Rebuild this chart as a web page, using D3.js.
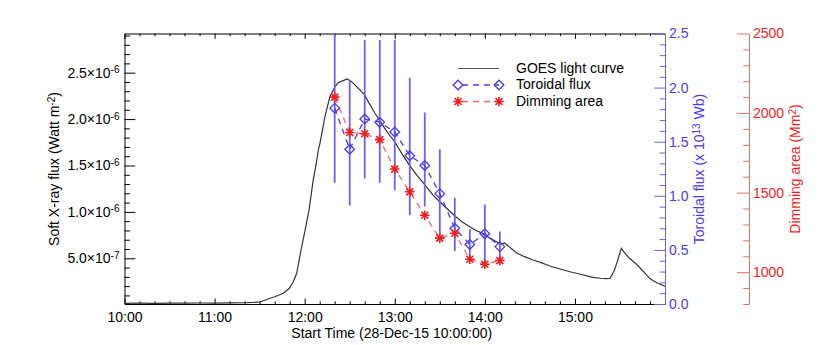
<!DOCTYPE html>
<html>
<head>
<meta charset="utf-8">
<script src="https://cdn.jsdelivr.net/npm/d3@7"></script>
<style>
  body { margin: 0; background: #fff; }
  text { font-family: "Liberation Sans", Arial, Helvetica, sans-serif; }
</style>
</head>
<body>
<svg id="chart" width="830" height="345"></svg>
<script>
// GOES soft X-ray light curve: minutes after 10:00 UT, flux in W m^-2
const goesMinutes = [0, 10, 20, 30, 40, 50, 60, 70, 80, 86, 90.3, 92.5, 96.9, 100.2, 105.8, 109.8,
  112.5, 114.7, 117.7, 120, 122.9, 125.7, 127.5, 129.1, 130.2, 133.5, 136.8, 140.2, 142.4, 145.7,
  148.3, 151.3, 156.8, 160, 162.3, 166.8, 170.1, 175, 180.1, 185, 190.1, 195, 200.1, 205.5, 210.1,
  214.5, 220.1, 225, 230, 234, 238.8, 243, 247.7, 251, 253, 255, 261, 266, 272.1, 278, 283.2, 289,
  294.3, 298, 303.1, 308, 312, 317, 321, 323.5, 326.4, 328.5, 330.9, 333, 336.4, 340, 343, 346,
  349.7, 352, 355.2, 360];
const goesFlux = [0.015e-6, 0.016e-6, 0.014e-6, 0.017e-6, 0.016e-6, 0.018e-6, 0.017e-6, 0.019e-6,
  0.021e-6, 0.024e-6, 0.030e-6, 0.043e-6, 0.070e-6, 0.085e-6, 0.123e-6, 0.177e-6, 0.25e-6, 0.338e-6,
  0.60e-6, 0.78e-6, 1.02e-6, 1.344e-6, 1.50e-6, 1.667e-6, 1.739e-6, 2.026e-6, 2.241e-6, 2.349e-6,
  2.392e-6, 2.414e-6, 2.432e-6, 2.403e-6, 2.314e-6, 2.259e-6, 2.188e-6, 2.063e-6, 1.98e-6, 1.86e-6,
  1.753e-6, 1.62e-6, 1.495e-6, 1.39e-6, 1.29e-6, 1.18e-6, 1.107e-6, 1.039e-6, 0.956e-6, 0.89e-6,
  0.841e-6, 0.80e-6, 0.769e-6, 0.72e-6, 0.679e-6, 0.65e-6, 0.665e-6, 0.64e-6, 0.56e-6, 0.52e-6,
  0.482e-6, 0.45e-6, 0.417e-6, 0.39e-6, 0.366e-6, 0.35e-6, 0.331e-6, 0.31e-6, 0.295e-6, 0.285e-6,
  0.28e-6, 0.285e-6, 0.374e-6, 0.48e-6, 0.608e-6, 0.56e-6, 0.50e-6, 0.45e-6, 0.403e-6, 0.35e-6,
  0.284e-6, 0.26e-6, 0.231e-6, 0.20e-6];

// flux rope measurements
const obsTimes = ['12:20', '12:30', '12:40', '12:50', '13:00', '13:10', '13:20', '13:30', '13:40', '13:50', '14:00', '14:10'];
const toroidalFlux = [1.81, 1.43, 1.71, 1.68, 1.59, 1.37, 1.28, 1.02, 0.70, 0.55, 0.65, 0.53];
const toroidalLo = [1.12, 0.91, 1.16, 1.12, 1.05, 0.82, 0.90, 0.61, 0.49, 0.41, 0.36, 0.37];
const toroidalHi = [2.50, 2.07, 2.44, 2.44, 2.44, 2.09, 1.77, 1.43, 0.98, 0.69, 0.92, 0.67];
const dimmingArea = [2100, 1878, 1870, 1833, 1648, 1505, 1358, 1214, 1245, 1081, 1050, 1073];

// axis ticks
const hourTicks = ['10:00', '11:00', '12:00', '13:00', '14:00', '15:00'];
const fluxTicks = [5e-7, 1.0e-6, 1.5e-6, 2.0e-6, 2.5e-6];
const toroidalTicks = [0, 0.5, 1.0, 1.5, 2.0, 2.5];
const dimmingTicks = [1000, 1500, 2000, 2500];

const BLUE = '#4b3bef', BLUE_LINE = '#6d60f2';
const RED = '#f01e1e', RED_LINE = '#f06a6a';
const FS = 14, FS_SUP = 10;

const toMin = s => { const [h, m] = s.split(':').map(Number); return (h - 10) * 60 + m; };

const svg = d3.select('#chart');
const x0 = 124.5, x1 = 665, y0 = 33.5, y1 = 304;

const x = d3.scaleLinear().domain([0, 360]).range([x0, x1]);
const yFlux = d3.scaleLinear().domain([0.0075e-6, 2.922e-6]).range([y1, y0]);
const yTor = d3.scaleLinear().domain([0, 2.5]).range([y1, y0]);
const yDim = d3.scaleLinear().domain([800, 2500]).range([y1, y0]);

const minorX = d3.range(0, 361, 10).filter(m => m % 60);
const minorFlux = d3.range(1, 30).filter(i => i % 5).map(i => i * 1e-7);
const minorTor = d3.range(0, 26).filter(i => i % 5).map(i => i / 10);
const minorDim = d3.range(800, 2501, 100).filter(v => v % 500);

function styleAxis(g, color, size) {
  g.selectAll('.domain').attr('stroke', color);
  g.selectAll('.tick line').attr('stroke', color);
  g.selectAll('text').attr('fill', color).attr('font-size', size);
}

// bottom / top time axes
const xMajor = hourTicks.map(toMin);
svg.append('g').attr('transform', `translate(0,${y1})`)
  .call(d3.axisBottom(x).tickValues(xMajor).tickSizeInner(-5.4).tickSizeOuter(0).tickPadding(8.5)
    .tickFormat((d, i) => hourTicks[i]))
  .call(g => styleAxis(g, '#000', FS));
svg.append('g').attr('transform', `translate(0,${y1})`)
  .call(d3.axisBottom(x).tickValues(minorX).tickSize(-2.7).tickFormat(''))
  .call(g => g.select('.domain').remove());
svg.append('g').attr('transform', `translate(0,${y0})`)
  .call(d3.axisTop(x).tickValues(xMajor).tickSizeInner(-5.4).tickSizeOuter(0).tickFormat(''))
  .call(g => styleAxis(g, '#000', 0));
svg.append('g').attr('transform', `translate(0,${y0})`)
  .call(d3.axisTop(x).tickValues(minorX).tickSize(-2.7).tickFormat(''))
  .call(g => g.select('.domain').remove());

// left flux axis with a×10^b labels
const gl = svg.append('g').attr('transform', `translate(${x0},0)`)
  .call(d3.axisLeft(yFlux).tickValues(fluxTicks).tickSizeInner(-10.8).tickSizeOuter(0).tickPadding(5))
  .call(g => styleAxis(g, '#000', FS));
gl.selectAll('.tick text').each(function (d) {
  const e = Math.floor(Math.log10(d) + 1e-9);
  const t = d3.select(this).text(null);
  t.append('tspan').text((d / Math.pow(10, e)).toFixed(1) + '\u00d710');
  t.append('tspan').attr('dy', '-0.45em').attr('font-size', FS_SUP).text(e);
});
svg.append('g').attr('transform', `translate(${x0},0)`)
  .call(d3.axisLeft(yFlux).tickValues(minorFlux).tickSize(-5.4).tickFormat(''))
  .call(g => g.select('.domain').remove());

// toroidal flux axis (blue)
svg.append('g').attr('transform', `translate(${x1},0)`)
  .call(d3.axisRight(yTor).tickValues(toroidalTicks).tickSizeInner(-10.8).tickSizeOuter(0).tickPadding(4)
    .tickFormat(d3.format('.1f')))
  .call(g => styleAxis(g, BLUE_LINE, FS))
  .call(g => g.selectAll('text').attr('fill', BLUE));
svg.append('g').attr('transform', `translate(${x1},0)`)
  .call(d3.axisRight(yTor).tickValues(minorTor).tickSize(-5.4).tickFormat(''))
  .call(g => g.select('.domain').remove())
  .call(g => g.selectAll('line').attr('stroke', BLUE_LINE));

// dimming area axis (red)
const dimX = 749;
svg.append('g').attr('transform', `translate(${dimX},0)`)
  .call(d3.axisRight(yDim).tickValues(dimmingTicks).tickSizeInner(-12).tickSizeOuter(0).tickPadding(4)
    .tickFormat(d3.format('d')))
  .call(g => styleAxis(g, RED_LINE, FS))
  .call(g => g.selectAll('text').attr('fill', RED));
svg.append('g').attr('transform', `translate(${dimX},0)`)
  .call(d3.axisRight(yDim).tickValues(minorDim).tickSize(-5.7).tickFormat(''))
  .call(g => g.select('.domain').remove())
  .call(g => g.selectAll('line').attr('stroke', RED_LINE));

// axis titles
svg.append('text').attr('x', x0 + (x1 - x0) / 2 - 3).attr('y', 338)
  .attr('text-anchor', 'middle').attr('font-size', FS)
  .text('Start Time (28-Dec-15 10:00:00)');

function vTitle(xp, color, pre, sup, post) {
  const t = svg.append('text').attr('transform', `translate(${xp},169) rotate(-90)`)
    .attr('text-anchor', 'middle').attr('font-size', FS).attr('fill', color);
  t.append('tspan').text(pre);
  t.append('tspan').attr('dy', '-0.45em').attr('font-size', FS_SUP).text(sup);
  t.append('tspan').attr('dy', '0.32em').text(post);
}
vTitle(59, '#000', 'Soft X-ray flux (Watt m', '-2', ')');
vTitle(704, BLUE, 'Toroidal flux (x 10', '13', ' Wb)');
vTitle(800, RED, 'Dimming area (Mm', '2', ')');

// clip for data
svg.append('clipPath').attr('id', 'plot').append('rect')
  .attr('x', x0).attr('y', y0).attr('width', x1 - x0).attr('height', y1 - y0);
const plot = svg.append('g').attr('clip-path', 'url(#plot)');

// GOES curve
plot.append('path')
  .datum(goesMinutes.map((m, i) => [m, goesFlux[i]]))
  .attr('fill', 'none').attr('stroke', '#333').attr('stroke-width', 1.2)
  .attr('d', d3.line().x(d => x(d[0])).y(d => yFlux(d[1])));

const obsMin = obsTimes.map(toMin);

// toroidal flux error bars
plot.selectAll('.err').data(obsMin).join('line')
  .attr('x1', d => x(d)).attr('x2', d => x(d))
  .attr('y1', (d, i) => yTor(toroidalHi[i])).attr('y2', (d, i) => yTor(toroidalLo[i]))
  .attr('stroke', BLUE_LINE).attr('stroke-width', 1.8);

// dashed connectors
plot.append('path').datum(obsMin)
  .attr('fill', 'none').attr('stroke', BLUE).attr('stroke-width', 1.3).attr('stroke-dasharray', '6,5')
  .attr('d', d3.line().x(d => x(d)).y((d, i) => yTor(toroidalFlux[i])));
plot.append('path').datum(obsMin)
  .attr('fill', 'none').attr('stroke', RED_LINE).attr('stroke-width', 1.3).attr('stroke-dasharray', '6,5')
  .attr('d', d3.line().x(d => x(d)).y((d, i) => yDim(dimmingArea[i])));

function diamond(g, cx, cy) {
  g.append('path').attr('d', `M${cx - 4.8},${cy}L${cx},${cy - 4.8}L${cx + 4.8},${cy}L${cx},${cy + 4.8}Z`)
    .attr('fill', 'none').attr('stroke', BLUE).attr('stroke-width', 1.3);
}
function star(g, cx, cy) {
  const r = 4.8, q = 3.5;
  g.append('path')
    .attr('d', `M${cx - r},${cy}L${cx + r},${cy}M${cx},${cy - r}L${cx},${cy + r}` +
      `M${cx - q},${cy - q}L${cx + q},${cy + q}M${cx - q},${cy + q}L${cx + q},${cy - q}`)
    .attr('stroke', RED).attr('stroke-width', 1.6);
  g.append('circle').attr('cx', cx).attr('cy', cy).attr('r', 1.8).attr('fill', RED);
}
obsMin.forEach((m, i) => diamond(plot, x(m), yTor(toroidalFlux[i])));
obsMin.forEach((m, i) => star(plot, x(m), yDim(dimmingArea[i])));

// legend
const lg = svg.append('g');
const lx0 = 458, lx1 = 499, tx = 516;
lg.append('line').attr('x1', lx0).attr('x2', lx1).attr('y1', 68.5).attr('y2', 68.5)
  .attr('stroke', '#555').attr('stroke-width', 1.1);
lg.append('line').attr('x1', lx0).attr('x2', lx1).attr('y1', 85).attr('y2', 85)
  .attr('stroke', BLUE).attr('stroke-width', 1.3).attr('stroke-dasharray', '6,5').attr('stroke-dashoffset', -4);
diamond(lg, lx0, 85); diamond(lg, lx1, 85);
lg.append('line').attr('x1', lx0).attr('x2', lx1).attr('y1', 101.5).attr('y2', 101.5)
  .attr('stroke', RED_LINE).attr('stroke-width', 1.3).attr('stroke-dasharray', '6,5').attr('stroke-dashoffset', -4);
star(lg, lx0, 101.5); star(lg, lx1, 101.5);
[['GOES light curve', 72.5], ['Toroidal flux', 89.3], ['Dimming area', 106]].forEach(([s, y]) =>
  lg.append('text').attr('x', tx).attr('y', y).attr('font-size', FS).text(s));
</script>
</body>
</html>
